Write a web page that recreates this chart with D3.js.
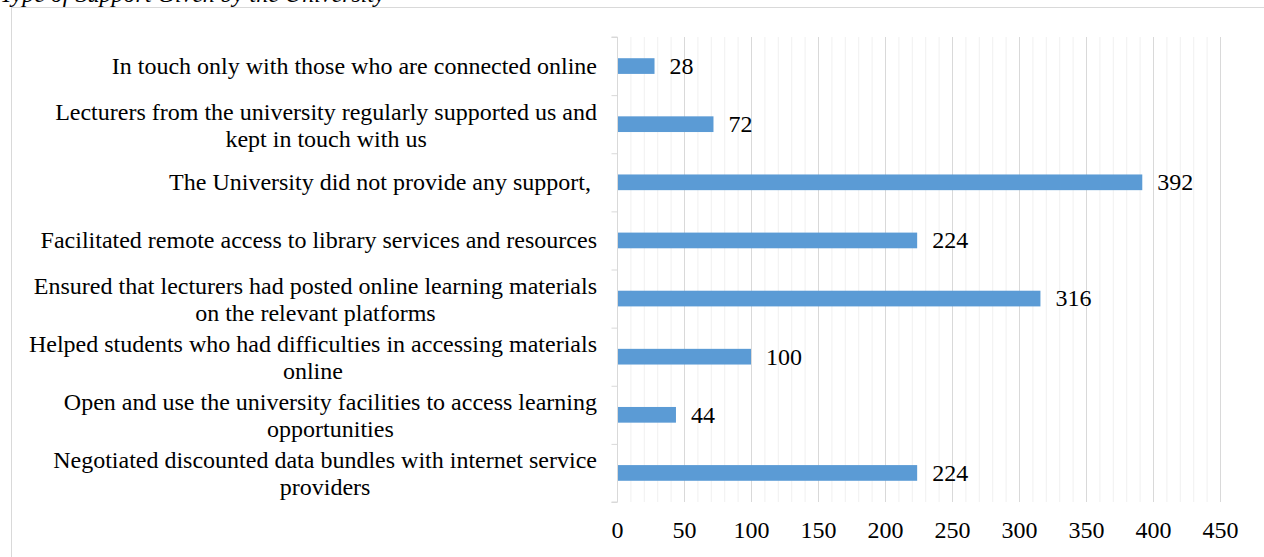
<!DOCTYPE html>
<html>
<head>
<meta charset="utf-8">
<script src="https://cdn.jsdelivr.net/npm/d3@7"></script>
<style>
  body { margin: 0; background: #fff; }
  svg { display: block; }
  text { font-family: "Liberation Serif", "Times New Roman", serif; fill: #000; }
</style>
</head>
<body>
<div id="chart"></div>
<script>
// chart data, top to bottom as in the picture ("|" marks a line break)
const categories = [
  "In touch only with those who are connected online",
  "Lecturers from the university regularly supported us and|kept in touch with us",
  "The University did not provide any support, ",
  "Facilitated remote access to library services and resources",
  "Ensured that lecturers had posted online learning materials|on the relevant platforms",
  "Helped students who had difficulties in accessing materials|online",
  "Open and use the university facilities to access learning|opportunities",
  "Negotiated discounted data bundles with internet service|providers"
];
const values = [28, 72, 392, 224, 316, 100, 44, 224];
const tickLabels = [0, 50, 100, 150, 200, 250, 300, 350, 400, 450];
const title = "Type of Support Given by the University";

const width = 1264,
  height = 557;
const plot = { left: 617, right: 1220, top: 37, bottom: 502 };
const fontSize = 24;

const svg = d3.select("#chart")
  .append("svg")
  .attr("width", width)
  .attr("height", height);

// outer frame (runs off the page on right and bottom)
svg.append("rect")
  .attr("x", 11.5)
  .attr("y", 7.5)
  .attr("width", width + 20)
  .attr("height", height + 20)
  .attr("fill", "none")
  .attr("stroke", "#d9d9d9");

// title, cut off by the top of the page like in the source
svg.append("text")
  .attr("x", 0)
  .attr("y", 2)
  .style("font-size", "24px")
  .style("font-style", "italic")
  .text(title);

const x = d3.scaleLinear()
  .domain([0, 450])
  .range([plot.left, plot.right]);

const y = d3.scaleBand()
  .domain(d3.range(categories.length))
  .range([plot.top, plot.bottom])
  .paddingInner(0.73)
  .paddingOuter(0.365);

// minor gridlines every 10
svg.append("g")
  .selectAll("line")
  .data(x.ticks(45).filter(d => d % 50 !== 0))
  .join("line")
  .attr("x1", d => x(d) + 0.5)
  .attr("x2", d => x(d) + 0.5)
  .attr("y1", plot.top)
  .attr("y2", plot.bottom)
  .attr("stroke", "#f0f0f0")
  .attr("stroke-width", 1);

// major gridlines every 50
svg.append("g")
  .selectAll("line")
  .data(tickLabels.filter(d => d > 0))
  .join("line")
  .attr("x1", d => x(d) + 0.5)
  .attr("x2", d => x(d) + 0.5)
  .attr("y1", plot.top)
  .attr("y2", plot.bottom)
  .attr("stroke", "#d9d9d9")
  .attr("stroke-width", 1);

// bottom axis: labels only
const xAxis = svg.append("g")
  .attr("transform", `translate(0,${plot.bottom})`)
  .call(d3.axisBottom(x).tickValues(tickLabels).tickSize(0).tickPadding(19));
xAxis.select(".domain").remove();
xAxis.selectAll("text")
  .style("font-family", '"Liberation Serif", "Times New Roman", serif')
  .style("font-size", fontSize + "px")
  .attr("fill", "#000");

// left axis line with separator ticks between categories
const ySep = d3.scaleLinear()
  .domain([0, categories.length])
  .range([plot.top, plot.bottom]);
const yAxis = svg.append("g")
  .attr("transform", `translate(${plot.left + 0.5},0)`)
  .call(d3.axisLeft(ySep).tickValues(d3.range(categories.length + 1)).tickSize(6).tickFormat(""));
yAxis.select(".domain").attr("stroke", "#d9d9d9").attr("d", `M-6,${plot.top}H0V${plot.bottom}H-6`);
yAxis.selectAll(".tick line").attr("stroke", "#d9d9d9");

// bars
svg.append("g")
  .selectAll("rect")
  .data(values)
  .join("rect")
  .attr("x", x(0) + 1)
  .attr("y", (d, i) => y(i))
  .attr("width", d => x(d) - x(0) - 1)
  .attr("height", y.bandwidth())
  .attr("fill", "#5b9bd5");

// value labels
svg.append("g")
  .selectAll("text")
  .data(values)
  .join("text")
  .attr("x", d => x(d) + 15)
  .attr("y", (d, i) => y(i) + y.bandwidth() / 2)
  .attr("dy", "0.33em")
  .style("font-size", fontSize + "px")
  .text(d => d);

// category labels: lines centred on each other, block right-aligned
const labelRight = 597;
const lineHeight = 27;
const labels = svg.append("g")
  .selectAll("text")
  .data(categories)
  .join("text")
  .style("font-size", fontSize + "px")
  .style("white-space", "pre")
  .attr("xml:space", "preserve");

labels.each(function(d, i) {
  const lines = d.split("|");
  const t = d3.select(this);
  const cy = y(i) + y.bandwidth() / 2 + (lines.length > 1 ? 1 : 0);
  const spans = lines.map((line, j) =>
    t.append("tspan")
      .attr("y", cy + (j - (lines.length - 1) / 2) * lineHeight)
      .attr("dy", "0.33em")
      .text(line)
  );
  const w = d3.max(spans, s => s.node().getComputedTextLength());
  spans.forEach(s => s.attr("x", labelRight - w / 2).attr("text-anchor", "middle"));
});
</script>
</body>
</html>
